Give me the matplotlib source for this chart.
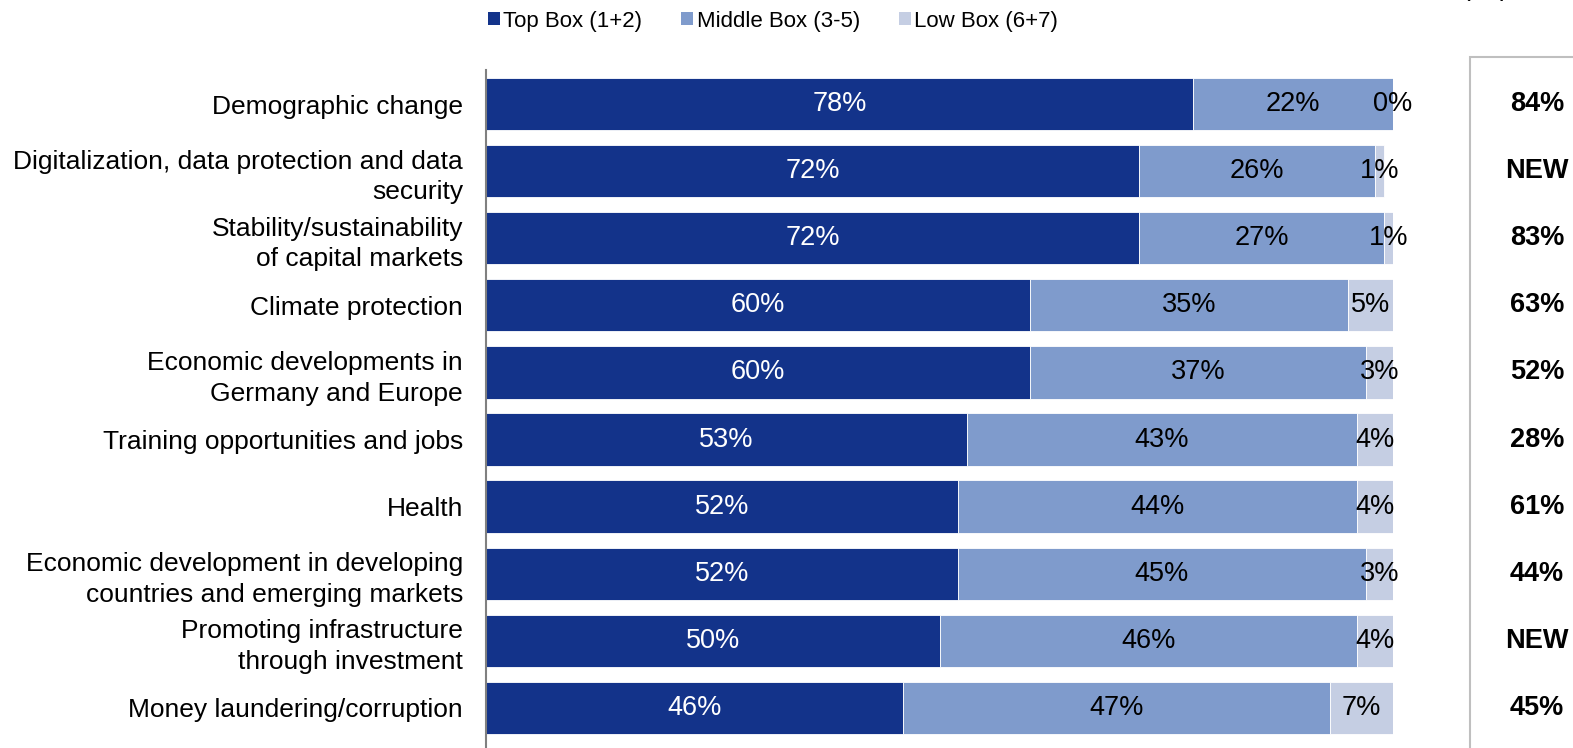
import matplotlib.pyplot as plt
from matplotlib.patches import Patch, Rectangle
from matplotlib.transforms import blended_transform_factory

plt.rcParams['font.family'] = ['Liberation Sans', 'DejaVu Sans']

categories = [
    "Demographic change",
    "Digitalization, data protection and data\nsecurity",
    "Stability/sustainability\nof capital markets",
    "Climate protection",
    "Economic developments in\nGermany and Europe",
    "Training opportunities and jobs",
    "Health",
    "Economic development in developing\ncountries and emerging markets",
    "Promoting infrastructure\nthrough investment",
    "Money laundering/corruption",
]
top_box = [78, 72, 72, 60, 60, 53, 52, 52, 50, 46]
middle_box = [22, 26, 27, 35, 37, 43, 44, 45, 46, 47]
low_box = [0, 1, 1, 5, 3, 4, 4, 3, 4, 7]
previous = ["84%", "NEW", "83%", "63%", "52%", "28%", "61%", "44%", "NEW", "45%"]

series_names = ["Top Box (1+2)", "Middle Box (3-5)", "Low Box (6+7)"]
colors = ["#13338a", "#7f9bcc", "#c5cee3"]
text_colors = ["white", "black", "black"]

W, H = 1573, 748
fig = plt.figure(figsize=(W / 100, H / 100), dpi=100)
ax = fig.add_axes([486 / W, 0, 907 / W, 678 / H])

ypos = list(range(len(categories)))
left = [0] * len(categories)
for vals, color, tcol in zip([top_box, middle_box, low_box], colors, text_colors):
    bars = ax.barh(ypos, vals, left=left, height=0.78, color=color,
                   edgecolor="white", linewidth=0.6)
    for b, v in zip(bars, vals):
        cx = b.get_x() + b.get_width() / 2
        ax.text(cx, b.get_y() + b.get_height() / 2, f"{v}%", ha="center",
                va="center", fontsize=19.5, color=tcol)
    left = [l + v for l, v in zip(left, vals)]

ax.set_xlim(0, 100)
ax.set_ylim(9.597, -0.507)
ax.set_yticks(ypos)
ax.set_yticklabels(categories, fontsize=19, linespacing=1.35)
ax.tick_params(axis="y", length=0, pad=16.5)
ax.set_xticks([])
for s in ["top", "right", "bottom"]:
    ax.spines[s].set_visible(False)
ax.spines["left"].set_color("#808080")
ax.spines["left"].set_linewidth(1.5)

# comparison column on the right
fig.patches.append(Rectangle((1470 / W, -0.1), 0.2, (H - 57) / H + 0.1,
                             transform=fig.transFigure, fill=False,
                             edgecolor="#bfbfbf", linewidth=1.5))
col_tr = blended_transform_factory(fig.transFigure, ax.transData)
for y, p in zip(ypos, previous):
    ax.text(1537 / W, y, p, transform=col_tr, ha="center", va="center",
            fontsize=19.5, fontweight="bold", clip_on=False)

fig.text(1462 / W, 1 + 4 / H, "(Top Box previous year)", fontsize=19,
         ha="left", va="baseline")

handles = [Patch(facecolor=c, edgecolor="none") for c in colors]
fig.legend(handles, series_names, loc="center", bbox_to_anchor=(773 / W, 1 - 21 / H),
           ncol=3, frameon=False, fontsize=16, handlelength=0.55, handleheight=0.55,
           handletextpad=0.15, columnspacing=1.75)

fig.savefig("out.png", dpi=100)
